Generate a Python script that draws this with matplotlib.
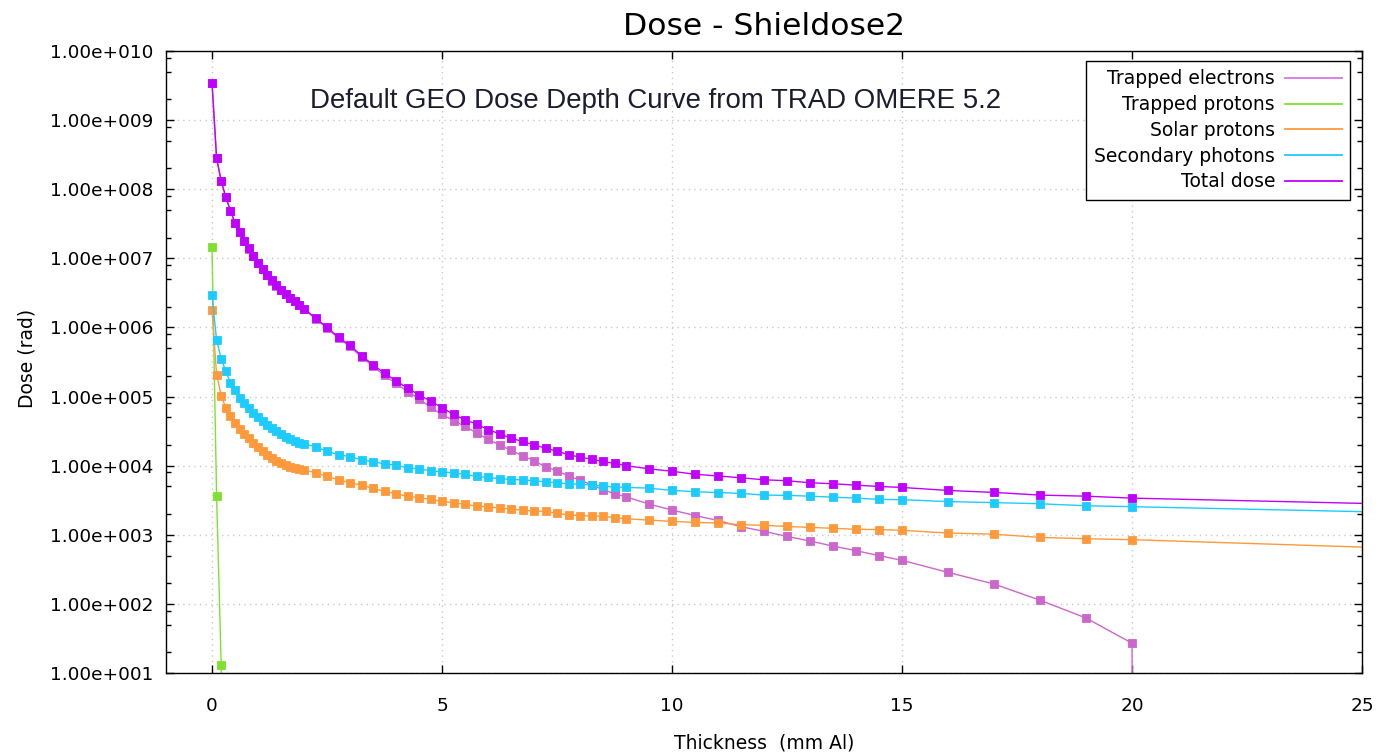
import matplotlib
matplotlib.use('Agg')
import matplotlib.pyplot as plt
from matplotlib.lines import Line2D
from matplotlib.ticker import LogLocator, FuncFormatter, MultipleLocator, NullFormatter

# thickness grid (mm Al)
thickness = [0.0, 0.1, 0.2, 0.3, 0.4, 0.5, 0.6, 0.7, 0.8, 0.9, 1.0,
             1.1, 1.2, 1.3, 1.4, 1.5, 1.6, 1.7, 1.8, 1.9, 2.0,
             2.25, 2.5, 2.75, 3.0, 3.25, 3.5, 3.75, 4.0, 4.25, 4.5, 4.75, 5.0,
             5.25, 5.5, 5.75, 6.0, 6.25, 6.5, 6.75, 7.0, 7.25, 7.5, 7.75, 8.0,
             8.25, 8.5, 8.75, 9.0,
             9.5, 10.0, 10.5, 11.0, 11.5, 12.0, 12.5, 13.0, 13.5, 14.0, 14.5, 15.0,
             16.0, 17.0, 18.0, 19.0, 20.0, 30.0]

trapped_electrons = [3.48e9, 2.79e8, 1.315e8, 7.67e7, 4.88e7, 3.25e7, 2.39e7, 1.77e7, 1.38e7, 1.07e7, 8.63e6,
                     6.94e6, 5.75e6, 4.75e6, 4.02e6, 3.46e6, 3.04e6, 2.67e6, 2.41e6, 2.11e6, 1.84e6,
                     1.34e6, 9.77e5, 6.99e5, 5.31e5, 3.73e5, 2.74e5, 2.02e5, 1.55e5, 1.18e5, 9.3e4, 7.0e4, 5.5e4,
                     4.5e4, 3.7e4, 2.98e4, 2.4e4, 2.0e4, 1.67e4, 1.39e4, 1.18e4, 9.6e3, 8.5e3, 7.05e3, 6.2e3,
                     5.26e3, 4.5e3, 3.93e3, 3.55e3,
                     2.78e3, 2.28e3, 1.9e3, 1.61e3, 1.31e3, 1.12e3, 9.48e2, 8.11e2, 6.87e2, 5.89e2, 4.99e2, 4.27e2,
                     2.86e2, 1.94e2, 1.13e2, 6.25e1, 2.7e1, 0.0]

trapped_protons = [1.44e7, 3.6e3, 1.3e1] + [0.0] * 64

solar_protons = [1.81e6, 2.06e5, 1.03e5, 6.9e4, 5.2e4, 4.17e4, 3.41e4, 2.92e4, 2.5e4, 2.14e4, 1.85e4,
                 1.62e4, 1.44e4, 1.3e4, 1.16e4, 1.09e4, 1.02e4, 9.6e3, 9.2e3, 8.9e3, 8.7e3,
                 7.9e3, 6.98e3, 6.25e3, 5.7e3, 5.2e3, 4.7e3, 4.24e3, 3.93e3, 3.6e3, 3.45e3, 3.25e3, 3.04e3,
                 2.91e3, 2.75e3, 2.6e3, 2.55e3, 2.43e3, 2.35e3, 2.27e3, 2.2e3, 2.18e3, 2.04e3, 1.95e3, 1.89e3,
                 1.87e3, 1.85e3, 1.77e3, 1.71e3,
                 1.63e3, 1.56e3, 1.51e3, 1.48e3, 1.40e3, 1.37e3, 1.32e3, 1.28e3, 1.24e3, 1.2e3, 1.19e3, 1.16e3,
                 1.06e3, 1.02e3, 9.16e2, 8.77e2, 8.49e2, 5.19e2]

secondary_photons = [2.9e6, 6.6e5, 3.54e5, 2.32e5, 1.59e5, 1.26e5, 9.6e4, 8.1e4, 6.9e4, 5.8e4, 5.0e4,
                     4.4e4, 3.9e4, 3.53e4, 3.15e4, 2.85e4, 2.62e4, 2.42e4, 2.26e4, 2.16e4, 2.09e4,
                     1.87e4, 1.62e4, 1.44e4, 1.35e4, 1.22e4, 1.14e4, 1.06e4, 1.02e4, 9.3e3, 9.0e3, 8.4e3, 8.2e3,
                     7.8e3, 7.5e3, 7.0e3, 6.75e3, 6.5e3, 6.3e3, 6.25e3, 6.05e3, 5.85e3, 5.66e3, 5.47e3, 5.4e3,
                     5.22e3, 5.06e3, 4.9e3, 4.85e3,
                     4.73e3, 4.38e3, 4.2e3, 4.08e3, 3.97e3, 3.75e3, 3.72e3, 3.62e3, 3.5e3, 3.39e3, 3.25e3, 3.22e3,
                     3.02e3, 2.92e3, 2.81e3, 2.63e3, 2.55e3, 1.83e3]

total_dose = [3.5e9, 2.8e8, 1.32e8, 7.7e7, 4.9e7, 3.27e7, 2.4e7, 1.78e7, 1.39e7, 1.08e7, 8.7e6,
              7.0e6, 5.8e6, 4.8e6, 4.06e6, 3.5e6, 3.08e6, 2.7e6, 2.44e6, 2.14e6, 1.87e6,
              1.37e6, 1.0e6, 7.2e5, 5.5e5, 3.9e5, 2.9e5, 2.17e5, 1.69e5, 1.32e5, 1.06e5, 8.6e4, 6.9e4,
              5.5e4, 4.6e4, 4.0e4, 3.33e4, 2.89e4, 2.5e4, 2.24e4, 2.0e4, 1.79e4, 1.62e4, 1.44e4, 1.33e4,
              1.24e4, 1.15e4, 1.08e4, 1.0e4,
              9.0e3, 8.3e3, 7.5e3, 7.1e3, 6.68e3, 6.25e3, 6.05e3, 5.66e3, 5.47e3, 5.22e3, 5.0e3, 4.84e3,
              4.38e3, 4.1e3, 3.75e3, 3.62e3, 3.39e3, 2.39e3]

labels = ['Trapped electrons', 'Trapped protons', 'Solar protons', 'Secondary photons', 'Total dose']
series = [trapped_electrons, trapped_protons, solar_protons, secondary_photons, total_dose]
colors = ['#cc66cc', '#80e030', '#ff9a3c', '#1ecbff', '#c000ff']
legend_colors = ['#d47ae0', '#80e030', '#ff9a3c', '#1ecbff', '#c000ff']

plt.rcParams['font.family'] = ['DejaVu Sans']

fig = plt.figure(figsize=(13.81, 7.54), dpi=100)
ax = fig.add_axes([166 / 1381, 1 - 673 / 754, 1196 / 1381, 622 / 754])
ax.set_yscale('log', nonpositive='clip')

for vals, c in zip(series, colors):
    ax.plot(thickness, vals, color=c, lw=1.0, marker='s', markersize=5.7,
            markeredgewidth=0.6, markeredgecolor=c, clip_on=True)

ax.set_xlim(-1, 25)
ax.set_ylim(1e1, 1e10)

ax.xaxis.set_major_locator(MultipleLocator(5))
ax.yaxis.set_major_locator(LogLocator(base=10, numticks=20))
ax.yaxis.set_minor_locator(LogLocator(base=10, subs=(2.0, 5.0, 8.0), numticks=20))
ax.yaxis.set_minor_formatter(NullFormatter())


def fmt_exp(v, pos):
    if v <= 0:
        return ''
    m, e = f'{v:.2e}'.split('e')
    e = int(e)
    return f"{m}e{'+' if e >= 0 else '-'}{abs(e):03d}"


ax.yaxis.set_major_formatter(FuncFormatter(fmt_exp))

ax.tick_params(which='both', direction='in', top=True, right=True, labelsize=13.3, colors='black')
ax.tick_params(axis='x', which='major', length=6, width=1, pad=17)
ax.tick_params(axis='y', which='major', length=6, width=1, pad=9)
ax.tick_params(axis='y', which='minor', length=3.5, width=1)
for s in ax.spines.values():
    s.set_linewidth(1.0)
    s.set_color('black')

ax.grid(True, which='major', color='#c8c8c8', linestyle=(0, (1, 3)), linewidth=1.0)
ax.set_axisbelow(True)

ax.set_title('Dose - Shieldose2', fontsize=22.6, pad=11.5)
ax.set_xlabel('Thickness  (mm Al)', fontsize=13.5)
ax.xaxis.set_label_coords(0.5, -0.112)
ax.xaxis.label.set_va('center')
ax.set_ylabel('Dose (rad)', fontsize=13.5)
ax.yaxis.set_label_coords(-0.1162, 0.506)
ax.yaxis.label.set_va('center')

ax.text(0.1204, 0.9079, 'Default GEO Dose Depth Curve from TRAD OMERE 5.2',
        transform=ax.transAxes, ha='left', va='baseline', fontsize=19.9,
        family=['Liberation Sans', 'DejaVu Sans'], color='#1c1c30')

handles = [Line2D([], [], color=c, lw=1.3) for c in legend_colors]
leg = ax.legend(handles, labels, loc='upper right', bbox_to_anchor=(0.990, 0.984),
                borderaxespad=0, markerfirst=False, fontsize=13.5, frameon=True,
                fancybox=False, shadow=False, framealpha=1, edgecolor='black',
                handlelength=3.0, handletextpad=0.55, labelspacing=0.36,
                borderpad=0.45)
leg.get_frame().set_linewidth(1.0)

fig.savefig('out.png', dpi=100)
